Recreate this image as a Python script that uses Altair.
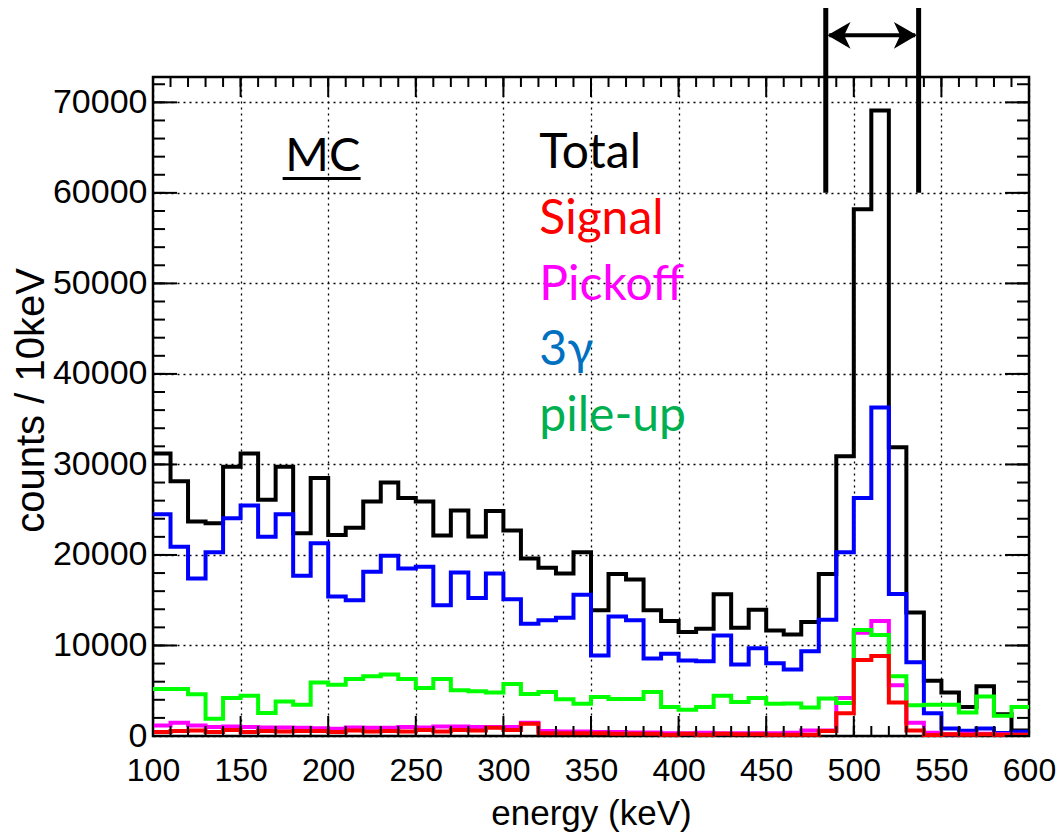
import altair as alt
import pandas as pd

# ---------------- data ----------------
bin_low = list(range(100, 600, 10))  # 10 keV bins, 100..590 lower edges

total = [31200, 28150, 23700, 23500, 29750, 31200, 26100, 29750, 22400, 28500,
         22200, 23000, 25900, 28000, 26300, 25900, 22150, 24900, 22050, 24850,
         22700, 19600, 18600, 17950, 20300, 13900, 17900, 17300, 13900, 12700,
         11500, 11850, 15650, 11950, 13950, 11650, 11200, 12600, 17900, 30900,
         58200, 69100, 31900, 13650, 6100, 4800, 3200, 5500, 2400, 600]

gamma3 = [24500, 20900, 17400, 20300, 24050, 25450, 22000, 24500, 17700, 21300,
          15400, 15000, 18150, 19900, 18500, 18700, 14450, 18050, 15250, 17950,
          15100, 12400, 12800, 13050, 15600, 8900, 13200, 12800, 8550, 9100,
          8350, 8250, 11100, 7900, 9700, 8050, 7350, 9350, 12850, 20300,
          26300, 36300, 15700, 8150, 2500, 820, 580, 820, 340, 480]

pileup = [5200, 5200, 4600, 1900, 4200, 4450, 2550, 3800, 3450, 5900,
          5650, 6300, 6600, 6800, 6300, 5300, 6300, 5050, 4950, 4800,
          5750, 4650, 4850, 4050, 3550, 4300, 4100, 4100, 4850, 3200,
          2900, 3200, 4450, 3750, 4200, 3550, 3600, 3150, 4150, 3650,
          11700, 11150, 6600, 3400, 3450, 3450, 2600, 4350, 2250, 3200]

pickoff = [1150, 1450, 1150, 1000, 1050, 1000, 950, 950, 900, 850,
           800, 950, 900, 900, 1000, 950, 1050, 1050, 1000, 1000,
           1000, 1450, 550, 500, 500, 450, 450, 400, 400, 300,
           300, 350, 300, 300, 300, 300, 350, 600, 600, 4200,
           11400, 12700, 5600, 1450, 350, 200, 250, 250, 200, 150]

signal = [450, 550, 600, 450, 650, 450, 550, 500, 550, 550,
          450, 600, 500, 550, 500, 650, 500, 650, 600, 900,
          650, 1350, 300, 300, 300, 300, 250, 250, 250, 150,
          250, 150, 250, 200, 200, 150, 150, 150, 550, 2500,
          8400, 8850, 3700, 600, 100, 200, 150, 200, 150, 150]

series_names = ["Total", "3γ", "Pickoff", "pile-up", "Signal"]
series_values = [total, gamma3, pickoff, pileup, signal]
line_colors = ["#000000", "#0000FF", "#FF00FF", "#00FF00", "#FF0000"]

legend_labels = ["Total", "Signal", "Pickoff", "3γ", "pile-up"]
legend_colors = ["#000000", "#FF0000", "#FF00FF", "#0070C0", "#00B050"]

x_ticks_major = list(range(100, 601, 50))
x_ticks_minor = list(range(100, 601, 10))
y_ticks_major = list(range(0, 70001, 10000))
y_ticks_minor = list(range(0, 72001, 2000))

window_edges = [484, 537]  # arrow window (keV)

# ---------------- layout ----------------
W, H = 876, 659
PAD = {"left": 145, "top": 69, "right": 27, "bottom": 96}   # 145+876+27 = 1048, 69+659+96 = 824
X_DOMAIN = [100, 600]
Y_DOMAIN = [0, 72800]
FONT = "Liberation Sans"
TXT_FONT = "Lato"

xs = alt.Scale(domain=X_DOMAIN, nice=False, zero=False)
ys = alt.Scale(domain=Y_DOMAIN, nice=False, zero=False)

x_axis = alt.Axis(values=x_ticks_major, format="d", grid=True, gridColor="black",
                  gridDash=[2, 4], gridWidth=1.3, gridOpacity=1, ticks=False, domain=False,
                  labelFont=FONT, labelFontSize=32, labelColor="black", labelPadding=19,
                  labelFlush=False, labelOverlap=False,
                  title="energy (keV)", titleFont=FONT, titleFontSize=35,
                  titleFontWeight="normal", titleColor="black",
                  titleY=88, titleBaseline="alphabetic")
y_axis = alt.Axis(values=y_ticks_major, format="d", grid=True, gridColor="black",
                  gridDash=[2, 4], gridWidth=1.3, gridOpacity=1, ticks=False, domain=False,
                  labelFont=FONT, labelFontSize=34, labelColor="black", labelPadding=6,
                  labelFlush=False, labelOverlap=False,
                  title="counts / 10keV", titleFont=FONT, titleFontSize=40,
                  titleFontWeight="normal", titleColor="black",
                  titleX=-110, titleY=323, titleAngle=270, titleAlign="center",
                  titleBaseline="alphabetic")


def X(field, **kw):
    return alt.X(field, scale=xs, **kw)


def Y(field, **kw):
    return alt.Y(field, scale=ys, **kw)


layers = []
for i, (name, vals, col) in enumerate(zip(series_names, series_values, line_colors)):
    d = pd.DataFrame({"energy": bin_low + [600], "counts": vals + [vals[-1]]})
    if i == 0:
        ex, ey = X("energy:Q", axis=x_axis), Y("counts:Q", axis=y_axis)
    else:
        ex, ey = X("energy:Q"), Y("counts:Q")
    layers.append(alt.Chart(d).mark_line(interpolate="step-after", strokeWidth=4,
                                         color=col, strokeJoin="miter").encode(x=ex, y=ey))

# inward ticks
dxm = pd.DataFrame({"energy": x_ticks_minor})
dxM = pd.DataFrame({"energy": x_ticks_major})
dym = pd.DataFrame({"counts": y_ticks_minor})
dyM = pd.DataFrame({"counts": y_ticks_major})
tick_layers = []
for dfx, ln in [(dxm, 10), (dxM, 20)]:
    tick_layers.append(alt.Chart(dfx).mark_rule(color="black", strokeWidth=2).encode(
        x=X("energy:Q"), y=alt.value(H), y2=alt.value(H - ln)))
    tick_layers.append(alt.Chart(dfx).mark_rule(color="black", strokeWidth=2).encode(
        x=X("energy:Q"), y=alt.value(0), y2=alt.value(ln)))
for dfy, ln in [(dym, 12), (dyM, 24)]:
    tick_layers.append(alt.Chart(dfy).mark_rule(color="black", strokeWidth=2).encode(
        y=Y("counts:Q"), x=alt.value(0), x2=alt.value(ln)))
    tick_layers.append(alt.Chart(dfy).mark_rule(color="black", strokeWidth=2).encode(
        y=Y("counts:Q"), x=alt.value(W), x2=alt.value(W - ln)))

# legend-like coloured text
leg_x0, leg_y0, leg_dy = 320.5, 62700, 7250
leg = pd.DataFrame({"label": legend_labels, "color": legend_colors})
leg["energy"] = leg_x0
leg["counts"] = [leg_y0 - k * leg_dy for k in range(len(leg))]
legend_text = alt.Chart(leg).mark_text(font=TXT_FONT, fontSize=48, align="left",
                                       baseline="alphabetic").encode(
    x=X("energy:Q"), y=Y("counts:Q"),
    text="label:N", color=alt.Color("color:N", scale=None))

mc = pd.DataFrame({"label": ["MC"], "energy": [175.5], "counts": [62450]})
mc_text = alt.Chart(mc).mark_text(font=TXT_FONT, fontSize=47, align="left",
                                  baseline="alphabetic", color="black").encode(
    x=X("energy:Q"), y=Y("counts:Q"), text="label:N")
mc_ul = pd.DataFrame({"energy": [174], "x2": [218.5], "counts": [61600]})
mc_line = alt.Chart(mc_ul).mark_rule(color="black", strokeWidth=3).encode(
    x=X("energy:Q"), x2="x2:Q", y=Y("counts:Q"))

# window arrow
bars = pd.DataFrame({"energy": window_edges, "counts": [60000, 60000], "y2": [80800, 80800]})
bar_rules = alt.Chart(bars).mark_rule(color="black", strokeWidth=5).encode(
    x=X("energy:Q"), y=Y("counts:Q"), y2="y2:Q")
shaft = pd.DataFrame({"energy": [window_edges[0] + 2], "x2": [window_edges[1] - 2], "counts": [77400]})
shaft_rule = alt.Chart(shaft).mark_rule(color="black", strokeWidth=4).encode(
    x=X("energy:Q"), x2="x2:Q", y=Y("counts:Q"))
head_l = alt.Chart(pd.DataFrame({"energy": [window_edges[0] + 1], "counts": [77400]})).mark_point(
    shape="M0,0L2,-1.17L1.45,0L2,1.17Z", filled=True, size=529, color="black", opacity=1,
    strokeWidth=0).encode(x=X("energy:Q"), y=Y("counts:Q"))
head_r = alt.Chart(pd.DataFrame({"energy": [window_edges[1] - 1], "counts": [77400]})).mark_point(
    shape="M0,0L-2,-1.17L-1.45,0L-2,1.17Z", filled=True, size=529, color="black", opacity=1,
    strokeWidth=0).encode(x=X("energy:Q"), y=Y("counts:Q"))

chart = alt.layer(*layers, *tick_layers, legend_text, mc_text, mc_line,
                  bar_rules, shaft_rule, head_l, head_r).properties(
    width=W, height=H,
    autosize=alt.AutoSizeParams(type="none"),
    padding=PAD,
    background="white",
).configure_view(stroke="black", strokeWidth=2.5)

chart.save("out.html", embed_options={"renderer": "svg", "actions": False})
